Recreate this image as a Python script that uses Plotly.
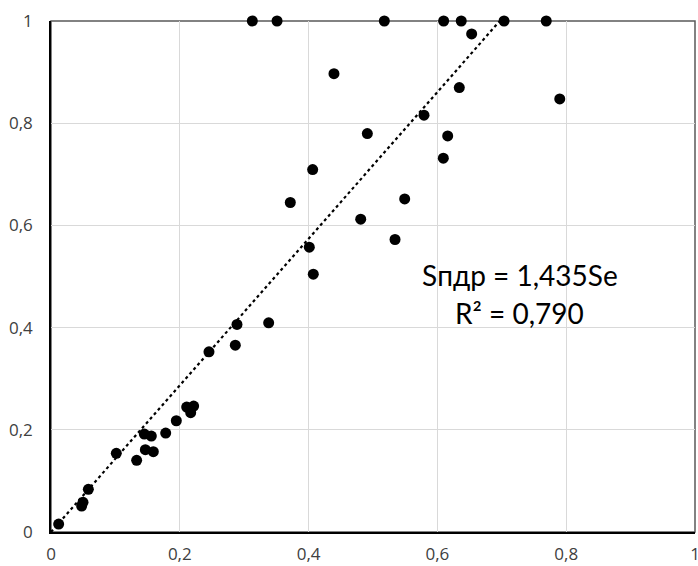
import plotly.graph_objects as go

# Data
se_values = [0.3126, 0.351, 0.5176, 0.6097, 0.637, 0.7035, 0.769,
             0.6532, 0.4394, 0.634, 0.790, 0.5792, 0.4912, 0.616, 0.6092,
             0.4063, 0.3716, 0.5492, 0.4809, 0.5342, 0.4011, 0.4073,
             0.338, 0.2888, 0.2862, 0.2453, 0.2215, 0.2107, 0.2169, 0.1946,
             0.1781, 0.1449, 0.1558, 0.1465, 0.1589, 0.1014, 0.1330,
             0.0580, 0.0497, 0.0476, 0.0119]
spdr_values = [1.0, 1.0, 1.0, 1.0, 1.0, 1.0, 1.0,
               0.9746, 0.897, 0.8697, 0.8475, 0.8156, 0.7797, 0.775, 0.7315,
               0.7093, 0.6448, 0.6519, 0.6122, 0.5724, 0.5574, 0.5046,
               0.4094, 0.4062, 0.3657, 0.3527, 0.2464, 0.2445, 0.2334, 0.2177,
               0.1936, 0.1917, 0.1878, 0.161, 0.1571, 0.1539, 0.1402,
               0.0835, 0.0581, 0.0509, 0.0156]
slope = 1.435
r_squared = 0.790
tick_values = [0, 0.2, 0.4, 0.6, 0.8, 1]

axis_max = 1.0
trend_x = [0, axis_max / slope]
trend_y = [slope * v for v in trend_x]

fig = go.Figure()
fig.add_trace(go.Scatter(
    x=trend_x, y=trend_y, mode="lines",
    line=dict(color="black", width=2.2, dash="dot"),
    hoverinfo="skip", showlegend=False, cliponaxis=False))
fig.add_trace(go.Scatter(
    x=se_values, y=spdr_values, mode="markers",
    marker=dict(color="black", size=11, line=dict(width=0)),
    showlegend=False, cliponaxis=False))

tick_font = dict(family="Open Sans", size=17, color="#404040")

fig.update_layout(
    width=698, height=566,
    margin=dict(l=51, r=3, t=21, b=34, autoexpand=False),
    paper_bgcolor="white", plot_bgcolor="white",
    separators=", ",
    xaxis=dict(range=[0, 1], tickvals=tick_values, showgrid=True,
               gridcolor="#d9d9d9", gridwidth=1, zeroline=False,
               showline=True, linecolor="black", linewidth=1.5,
               ticks="outside", ticklen=6, tickcolor="rgba(0,0,0,0)",
               tickfont=tick_font, automargin=False,
               ticklabeloverflow="allow"),
    yaxis=dict(range=[0, 1], tickvals=tick_values, showgrid=True,
               gridcolor="#d9d9d9", gridwidth=1, zeroline=False,
               showline=True, linecolor="black", linewidth=1.5,
               ticks="outside", ticklen=13, tickcolor="rgba(0,0,0,0)",
               tickfont=tick_font, automargin=False,
               ticklabeloverflow="allow"),
    shapes=[dict(type="rect", xref="x domain", yref="y domain",
                 x0=0, x1=1, y0=0, y1=1, layer="below",
                 line=dict(color="#595959", width=1.5))],
)

eq_font = dict(family="Lato", size=28, color="black")
fig.add_annotation(xref="paper", yref="paper", x=0.728, y=0.503,
                   text=f"Sпдр = {str(slope).replace('.', ',')}Se",
                   showarrow=False, font=eq_font, xanchor="center", yanchor="middle")
fig.add_annotation(xref="paper", yref="paper", x=0.728, y=0.429,
                   text=f"R² = {r_squared:.3f}".replace('.', ','),
                   showarrow=False, font=eq_font, xanchor="center", yanchor="middle")

fig.write_html("out.html", config={"displayModeBar": False},
               post_script="document.body.style.margin='0px';")
